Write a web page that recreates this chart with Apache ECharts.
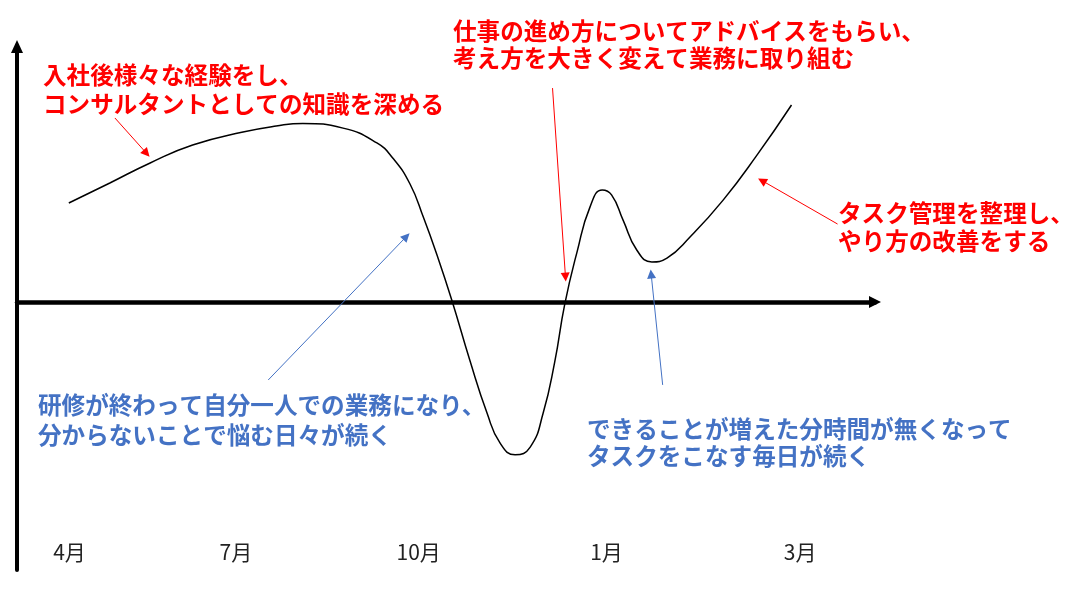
<!DOCTYPE html>
<html><head><meta charset="utf-8">
<script src="https://cdn.jsdelivr.net/npm/echarts@6/dist/echarts.min.js"></script>
<style>html,body{margin:0;padding:0;background:#fff}#c{width:1074px;height:600px}</style>
</head><body><div id="c"></div>
<script>
// ---- data (time units along x, motivation units along y; 0 = neutral) ----
const curveX = [7.2, 12.9, 18.5, 24.4, 31.4, 36.0, 39.7, 45.3, 50.0, 52.2, 54.6, 56.5, 58.3, 60.4, 62.9, 65.3, 67.1, 69.2, 71.3, 73.1, 74.7, 76.1, 77.8, 79.6, 81.3, 82.6, 84.2, 86.1, 88.2, 90.3, 93.5, 98.1, 102.8, 107.6];
const curveY = [38.1, 45.8, 53.5, 60.4, 65.4, 67.7, 68.7, 66.9, 61.2, 55.4, 45.4, 32.3, 18.5, 0.8, -22.3, -42.7, -54.2, -58.8, -55.8, -42.7, -23.1, -0.8, 19.2, 36.5, 43.1, 41.2, 31.5, 20.0, 15.4, 16.9, 25.0, 39.2, 56.5, 75.8];
const monthLabels = ['4月', '7月', '10月', '1月', '3月'];
const monthPos = [7.3, 30.4, 55.8, 81.9, 108.8];
const noteRed1 = ['入社後様々な経験をし、', 'コンサルタントとしての知識を深める'];
const noteRed2 = ['仕事の進め方についてアドバイスをもらい、', '考え方を大きく変えて業務に取り組む'];
const noteRed3 = ['タスク管理を整理し、', 'やり方の改善をする'];
const noteBlue1 = ['研修が終わって自分一人での業務になり、', '分からないことで悩む日々が続く'];
const noteBlue2 = ['できることが増えた分時間が無くなって', 'タスクをこなす毎日が続く'];

// ---- build ----
const RED = '#FF0000', BLUE = '#4472C4';
const FONT = 'bold 23.6px "Noto Sans CJK JP", "Noto Sans CJK SC", sans-serif';
const curve = curveX.map((x, i) => [x, curveY[i]]);

const redArrows = [
  [[13.6, 70.8], [18.0, 57.2]],
  [[74.4, 82.3], [76.2, 9.6]],
  [[114.0, 30.0], [103.5, 46.7]]
];
const blueArrows = [
  [[34.9, -30.0], [54.1, 25.2]],
  [[89.7, -31.9], [88.1, 10.8]]
];

const notes = [
  { lines: noteRed1, color: RED, x: 43, y: 75.5, lh: 29 },
  { lines: noteRed2, color: RED, x: 453, y: 31.5, lh: 27 },
  { lines: noteRed3, color: RED, x: 838, y: 213, lh: 28 },
  { lines: noteBlue1, color: BLUE, x: 38, y: 405, lh: 30 },
  { lines: noteBlue2, color: BLUE, x: 587, y: 429, lh: 27 }
];
const graphics = [];
notes.forEach(n => n.lines.forEach((t, i) => {
  graphics.push({
    type: 'text', x: n.x, y: n.y + i * n.lh, z: 100,
    style: { text: t, font: FONT, fill: n.color, verticalAlign: 'middle', textVerticalAlign: 'middle', align: 'left' }
  });
}));

function arrowSeries(arr, color) {
  return {
    type: 'lines', coordinateSystem: 'cartesian2d', xAxisIndex: 0, yAxisIndex: 0,
    symbol: ['none', 'triangle'], symbolSize: [8, 9], silent: true, z: 5,
    lineStyle: { color: color, width: 1, opacity: 1 },
    data: arr.map(c => ({ coords: c }))
  };
}

const chart = echarts.init(document.getElementById('c'), null, { renderer: 'canvas' });
chart.setOption({
  animation: false,
  backgroundColor: '#fff',
  grid: { left: 17, right: 199, top: 46.5, bottom: 30, containLabel: false },
  xAxis: [
    {
      type: 'value', min: 0, max: 119.2,
      axisLine: { show: true, onZero: true, symbol: ['none', 'triangle'], symbolSize: [12, 12], lineStyle: { color: '#000', width: 4.5 } },
      axisTick: { show: false }, axisLabel: { show: false }, splitLine: { show: false }
    },
    {
      type: 'value', min: 0, max: 119.2, position: 'bottom',
      axisLine: { show: false, onZero: false },
      axisTick: { show: false },
      splitLine: { show: false },
      axisLabel: {
        show: true, inside: true, margin: 7,
        customValues: monthPos,
        color: '#222', fontSize: 21, fontFamily: '"Noto Sans CJK JP", sans-serif',
        formatter: function (v) {
          let best = 0;
          monthPos.forEach((p, i) => { if (Math.abs(p - v) < Math.abs(monthPos[best] - v)) best = i; });
          return monthLabels[best];
        }
      }
    }
  ],
  yAxis: {
    type: 'value', min: -103.1, max: 98.3,
    axisLine: { show: true, onZero: false, symbol: ['none', 'triangle'], symbolSize: [12, 13], lineStyle: { color: '#000', width: 4 } },
    axisTick: { show: false }, axisLabel: { show: false }, splitLine: { show: false }
  },
  graphic: graphics,
  series: [
    {
      type: 'line', data: curve, xAxisIndex: 0, yAxisIndex: 0,
      smooth: 0.5, showSymbol: false, silent: true,
      lineStyle: { color: '#000', width: 1.5 }, z: 3
    },
    arrowSeries(redArrows, RED),
    arrowSeries(blueArrows, BLUE)
  ]
});
</script>
</body></html>
